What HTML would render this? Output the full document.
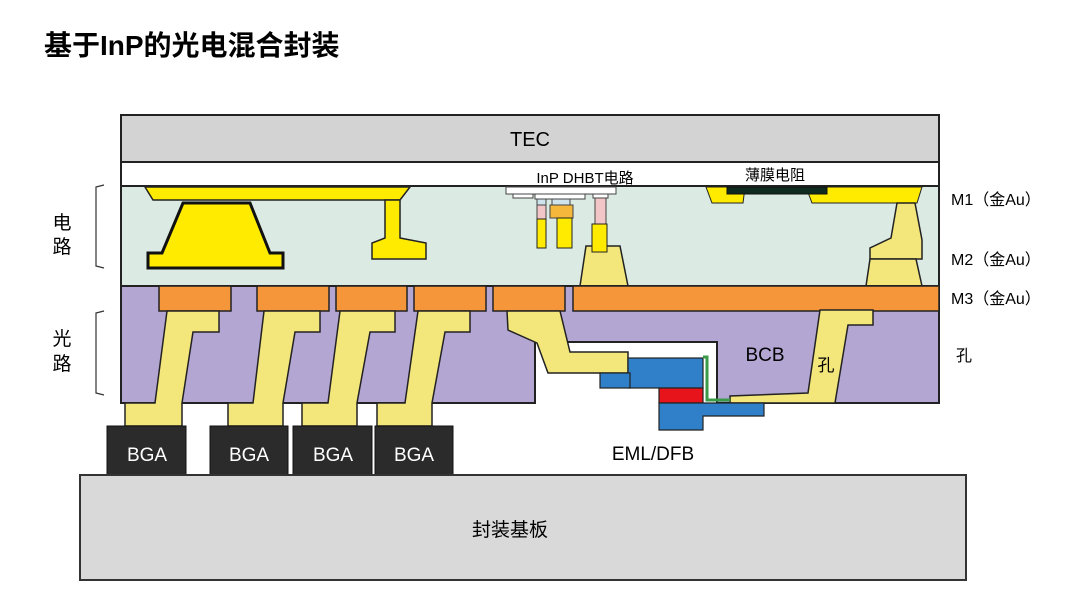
<!DOCTYPE html>
<html><head><meta charset="utf-8"><style>
body{margin:0;background:#fff;width:1080px;height:607px;overflow:hidden}
svg text{font-family:"Liberation Sans","Noto Sans CJK SC",sans-serif}
</style></head><body>
<svg width="1080" height="607" viewBox="0 0 1080 607" xmlns="http://www.w3.org/2000/svg">
<text x="44" y="55" font-size="28" font-weight="bold" fill="#000">基于InP的光电混合封装</text>
<!-- TEC -->
<rect x="121" y="115" width="818" height="47" fill="#d3d3d3" stroke="#222" stroke-width="2"/>
<text x="530" y="146" font-size="20" text-anchor="middle">TEC</text>
<rect x="121" y="162" width="818" height="24" fill="#fff" stroke="#222" stroke-width="2"/>
<text x="585" y="183" font-size="15" text-anchor="middle">InP DHBT电路</text>
<text x="775" y="180" font-size="15" text-anchor="middle">薄膜电阻</text>
<!-- electrical layer -->
<rect x="121" y="186" width="818" height="100" fill="#dbeae2" stroke="#222" stroke-width="2"/>
<polygon points="145,187 410,187 400,200 153,200" fill="#ffeb00" stroke="#222" stroke-width="1.5"/>
<polygon points="148,268 283,268 283,253 270,253 250,203 183,203 162,253 148,253" fill="#ffeb00" stroke="#111" stroke-width="3"/>
<polygon points="385,200 400,200 400,238 426,243 426,259 372,259 372,243 385,238" fill="#ffeb00" stroke="#222" stroke-width="1.5"/>
<!-- DHBT -->
<rect x="506" y="187" width="110" height="7" fill="#fff" stroke="#444"/>
<rect x="513" y="194" width="20" height="4" fill="#fff" stroke="#444"/>
<rect x="535" y="194" width="50" height="5" fill="#fff" stroke="#444"/>
<rect x="593" y="194" width="15" height="4" fill="#fff" stroke="#444"/>
<rect x="537" y="199" width="9" height="6" fill="#cfe3ec" stroke="#444"/>
<rect x="537" y="205" width="9" height="14" fill="#f2c6c6" stroke="#444"/>
<rect x="537" y="219" width="9" height="29" fill="#ffeb00" stroke="#222"/>
<rect x="552" y="199" width="18" height="6" fill="#cfe3ec" stroke="#444"/>
<rect x="550" y="205" width="23" height="13" fill="#f5b83c" stroke="#444"/>
<rect x="557" y="218" width="15" height="30" fill="#ffeb00" stroke="#222"/>
<rect x="595" y="198" width="11" height="27" fill="#f2c6c6" stroke="#444"/>
<polygon points="586,246 620,246 628,286 580,286" fill="#f3e67a" stroke="#222" stroke-width="1.5"/>
<rect x="592" y="224" width="15" height="28" fill="#ffeb00" stroke="#222"/>
<!-- thin film resistor -->
<polygon points="706,187 745,187 743,203 712,203" fill="#ffeb00" stroke="#222"/>
<polygon points="806,187 922,187 917,203 812,203" fill="#ffeb00" stroke="#222"/>
<rect x="727" y="187" width="100" height="7" fill="#0f2a1e" stroke="#111"/>
<polygon points="897,203 915,203 922,240 922,259 870,259 870,248 891,238" fill="#f3e67a" stroke="#222" stroke-width="1.5"/>
<polygon points="870,259 916,259 922,286 866,286" fill="#f3e67a" stroke="#222" stroke-width="1.5"/>
<!-- optical layer purple with cutout -->
<polygon points="121,286 939,286 939,403 717,403 717,342 535,342 535,403 121,403" fill="#b3a6d3" stroke="#222" stroke-width="2"/>
<!-- orange pads -->
<g fill="#f5963a" stroke="#222" stroke-width="1.5">
<rect x="159" y="286" width="72" height="25"/>
<rect x="257" y="286" width="72" height="25"/>
<rect x="336" y="286" width="71" height="25"/>
<rect x="414" y="286" width="72" height="25"/>
<rect x="493" y="286" width="72" height="25"/>
<rect x="573" y="286" width="366" height="25"/>
</g>
<!-- traces -->
<g fill="#f3e67a" stroke="#222" stroke-width="1.5">
<polygon points="167,311 219,311 219,332 193,332 182,403 182,426 125,426 125,403 155,403"/>
<polygon points="264,311 320,311 320,332 295,332 283,403 283,426 228,426 228,403 253,403"/>
<polygon points="340,311 395,311 395,332 370,332 357,403 357,426 302,426 302,403 328,403"/>
<polygon points="418,311 470,311 470,332 445,332 432,403 432,426 377,426 377,403 405,403"/>
<polygon points="507,311 560,311 570,352 628,352 628,373 548,373 537,343 508,330"/>
<polygon points="820,310 873,310 873,325 848,325 835,403 730,403 730,396 808,393"/>
</g>
<!-- laser -->
<rect x="628" y="358" width="75" height="30" fill="#2f80c8" stroke="#222" stroke-width="1.2"/>
<rect x="600" y="373" width="30" height="15" fill="#2f80c8" stroke="#222" stroke-width="1.2"/>
<polyline points="703,357 707,357 707,400 730,400" fill="none" stroke="#3a9a48" stroke-width="3"/>
<rect x="659" y="388" width="44" height="15" fill="#e8141c" stroke="#222" stroke-width="1.2"/>
<polygon points="659,403 764,403 764,416 703,416 703,430 659,430" fill="#2f80c8" stroke="#222" stroke-width="1.2"/>
<text x="765" y="361" font-size="19" text-anchor="middle">BCB</text>
<text x="826" y="371" font-size="17" text-anchor="middle">孔</text>
<text x="653" y="460" font-size="19" text-anchor="middle">EML/DFB</text>
<!-- BGA -->
<g fill="#2b2b2b" stroke="#111">
<rect x="107" y="426" width="79" height="49"/>
<rect x="210" y="426" width="78" height="49"/>
<rect x="293" y="426" width="79" height="49"/>
<rect x="375" y="426" width="78" height="49"/>
</g>
<g fill="#fff" font-size="19" text-anchor="middle">
<text x="147" y="461">BGA</text><text x="249" y="461">BGA</text><text x="333" y="461">BGA</text><text x="414" y="461">BGA</text>
</g>
<!-- substrate -->
<rect x="80" y="475" width="886" height="105" fill="#d9d9d9" stroke="#333" stroke-width="2"/>
<text x="510" y="536" font-size="19" text-anchor="middle">封装基板</text>
<!-- left labels -->
<g font-size="19" text-anchor="middle"><text x="62" y="229">电</text><text x="62" y="253">路</text><text x="62" y="345">光</text><text x="62" y="370">路</text></g>
<path d="M104,185 L96,187 L96,266 L104,268" fill="none" stroke="#333" stroke-width="1.2"/>
<path d="M104,311 L96,313 L96,393 L104,395" fill="none" stroke="#333" stroke-width="1.2"/>
<!-- right labels -->
<g font-size="16"><text x="951" y="205">M1（金Au）</text><text x="951" y="265">M2（金Au）</text><text x="951" y="304">M3（金Au）</text><text x="956" y="361">孔</text></g>
</svg>
</body></html>
